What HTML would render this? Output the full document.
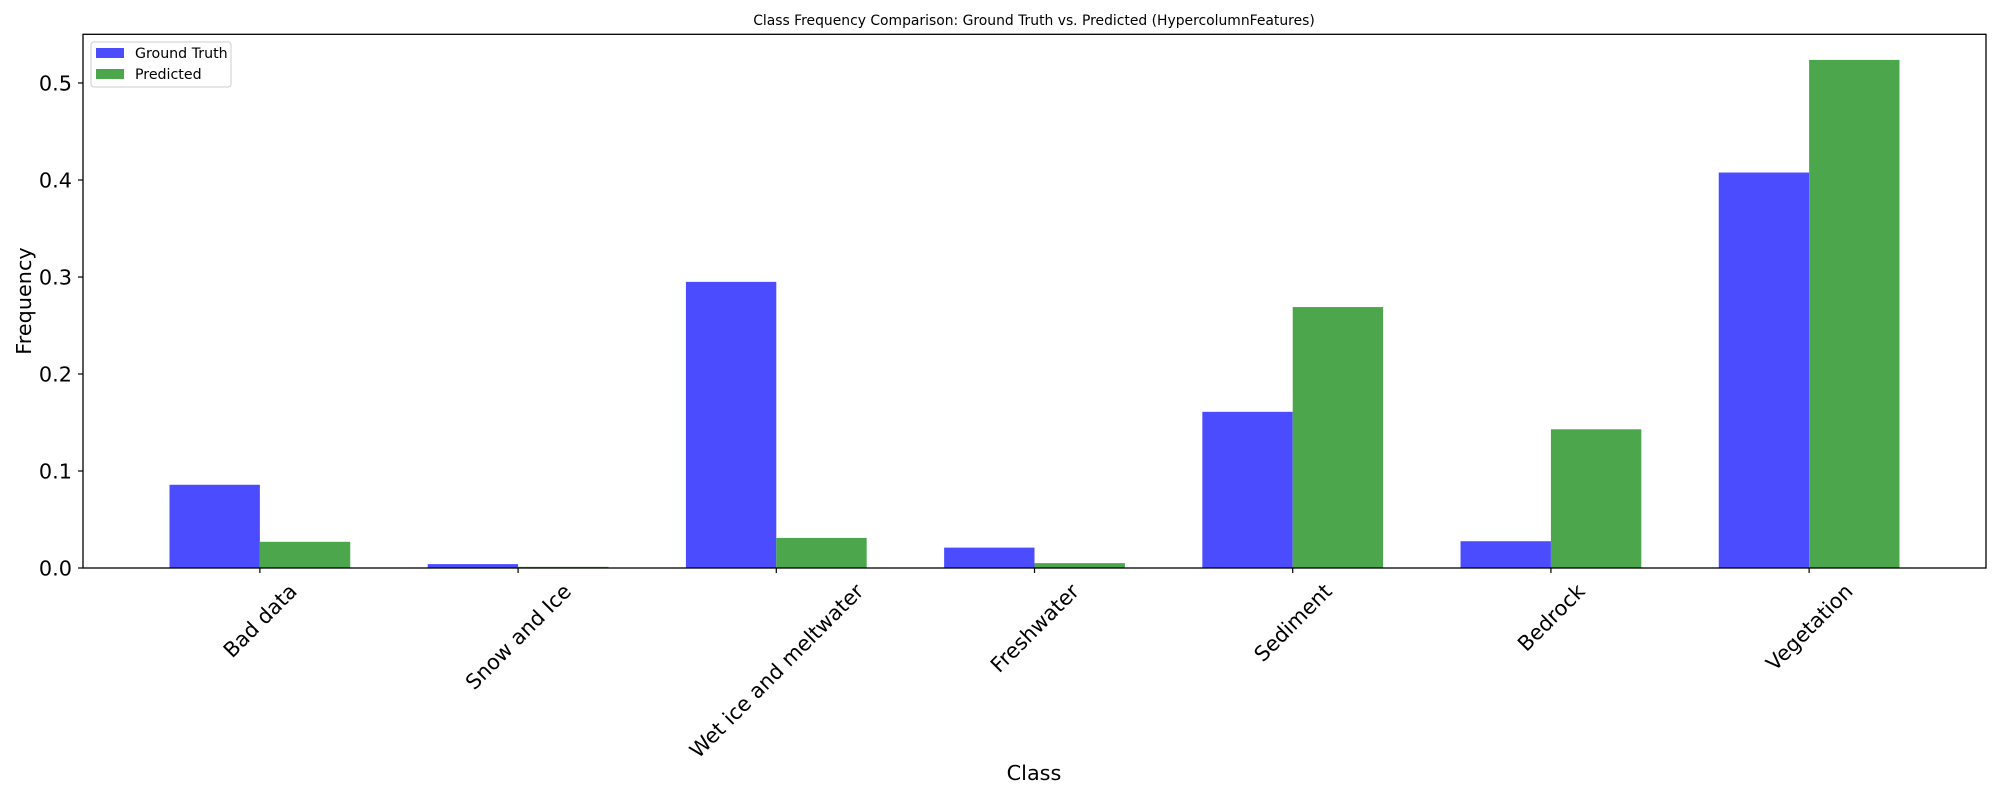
<!DOCTYPE html>
<html><head><meta charset="utf-8"><style>
html,body{margin:0;padding:0;background:#fff;}
svg{display:block;font-family:"DejaVu Sans","Liberation Sans",sans-serif;}
</style></head><body>
<svg id="chart" width="2000" height="800" viewBox="0 0 2000 800"></svg>
<script>
const categories = ["Bad data","Snow and Ice","Wet ice and meltwater","Freshwater","Sediment","Bedrock","Vegetation"];
const groundTruth = [0.0858,0.004,0.295,0.021,0.161,0.0276,0.4077];
const predicted = [0.027,0.0012,0.031,0.005,0.269,0.143,0.5238];
const yTicks = [0.0,0.1,0.2,0.3,0.4,0.5];
const yTickLabels = ["0.0","0.1","0.2","0.3","0.4","0.5"];

const NS = "http://www.w3.org/2000/svg";
const svg = document.getElementById('chart');
const L = 83, R = 1986, T = 34.3, B = 568;
const xMin = -0.685, xMax = 6.685, yMin = 0, yMax = 0.5502;
const barW = 0.35;
const FS = 20.8;
function xs(v){ return L + (v - xMin) / (xMax - xMin) * (R - L); }
function ys(v){ return B - (v - yMin) / (yMax - yMin) * (B - T); }
function mk(tag, attrs){ const e = document.createElementNS(NS, tag); for (const k in attrs) e.setAttribute(k, attrs[k]); svg.appendChild(e); return e; }

categories.forEach((c, i) => {
  const g = mk('rect', {x: xs(i - barW), y: ys(groundTruth[i]), width: xs(i) - xs(i - barW), height: ys(0) - ys(groundTruth[i]), fill: '#4c4cff'});
  
  
  const p = mk('rect', {x: xs(i), y: ys(predicted[i]), width: xs(i + barW) - xs(i), height: ys(0) - ys(predicted[i]), fill: '#4ca64c'});
  
  
});

const frame = mk('rect', {x: L, y: T, width: R - L, height: B - T, fill: 'none', stroke: '#000', 'stroke-width': 1.3});



yTicks.forEach((v, i) => {
  const y = ys(v);
  const t = mk('line', {x1: L - 5, x2: L, y1: y, y2: y, stroke: '#000', 'stroke-width': 1.2});
  
  
  const lb = mk('text', {x: L - 11, y: y + 7.5, 'text-anchor': 'end', 'font-size': FS + 'px', fill: '#000'});
  lb.textContent = yTickLabels[i];
  
  
});

categories.forEach((c, i) => {
  const x = xs(i);
  const t = mk('line', {x1: x, x2: x, y1: B, y2: B + 5, stroke: '#000', 'stroke-width': 1.2});
  
  
  const lb = mk('text', {'text-anchor': 'middle', 'font-size': FS + 'px', fill: '#000'});
  lb.textContent = c;
  svg.appendChild(lb);
  const w = lb.getComputedTextLength();
  const bbox = (w + FS) / Math.SQRT2;
  const cy = B + 12 + bbox / 2;
  lb.setAttribute('transform', 'translate(' + x + ',' + cy + ') rotate(-45)');
  lb.setAttribute('y', 7.5);
  
  
});
</script>
<script>
(function(){
  const NS = "http://www.w3.org/2000/svg";
  const svg = document.getElementById('chart');
  function mk(tag, attrs, txt){ const e = document.createElementNS(NS, tag); for (const k in attrs) e.setAttribute(k, attrs[k]); if (txt) e.textContent = txt; svg.appendChild(e); return e; }
  const title = mk('text', {x: 1034, y: 25, 'text-anchor': 'middle', 'font-size': '13.9px', fill: '#000'}, 'Class Frequency Comparison: Ground Truth vs. Predicted (HypercolumnFeatures)');
  
  
  const xl = mk('text', {x: 1034, y: 780, 'text-anchor': 'middle', 'font-size': '20.8px', fill: '#000'}, 'Class');
  
  
  const yl = mk('text', {x: 0, y: 0, 'text-anchor': 'middle', 'font-size': '20.8px', fill: '#000', transform: 'translate(31,301) rotate(-90)'}, 'Frequency');
  
  
  const lg = mk('rect', {x: 91, y: 42, width: 140, height: 45, rx: 3, fill: '#fff', 'fill-opacity': 0.8, stroke: '#ccc', 'stroke-width': 1});
  
  
  const s1 = mk('rect', {x: 96, y: 48, width: 28, height: 10, fill: '#4c4cff'});
  
  
  const t1 = mk('text', {x: 135, y: 58, 'font-size': '14.2px', fill: '#000'}, 'Ground Truth');
  
  
  const s2 = mk('rect', {x: 96, y: 69, width: 28, height: 10, fill: '#4ca64c'});
  
  
  const t2 = mk('text', {x: 135, y: 79, 'font-size': '14.2px', fill: '#000'}, 'Predicted');
  
  
})();
</script>
</body></html>
